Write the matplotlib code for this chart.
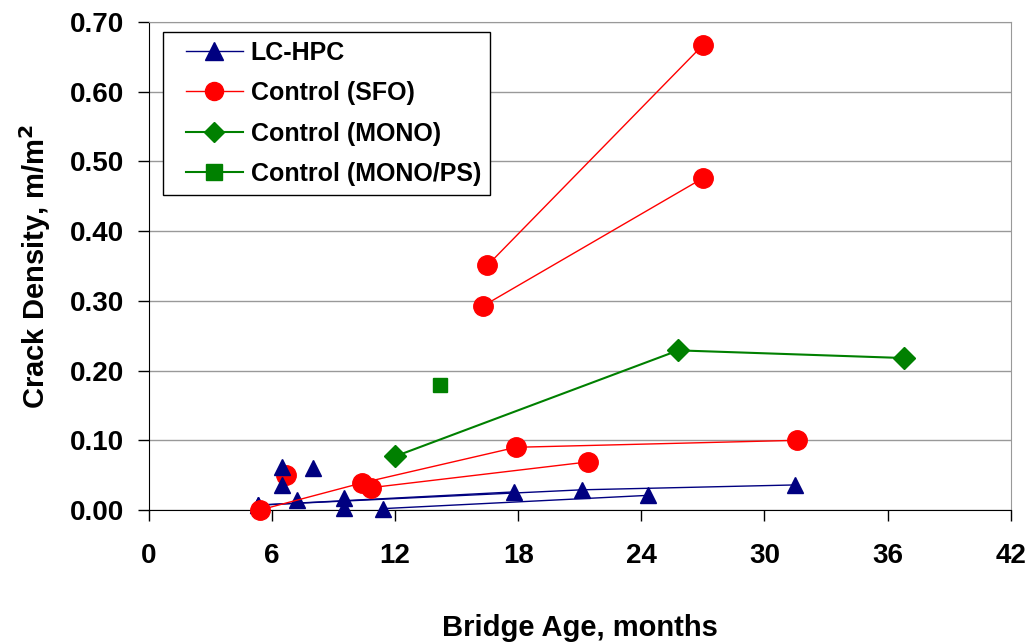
import numpy as np
import matplotlib
import matplotlib.pyplot as plt
from matplotlib.lines import Line2D
from matplotlib.legend_handler import HandlerLine2D

matplotlib.rcParams['font.family'] = "Liberation Sans"
matplotlib.rcParams['font.weight'] = "bold"

# LC-HPC bridges (connected series)
hpc_lines = [
    ([5.3, 17.8], [0.007, 0.026]),
    ([5.3, 21.1, 31.5], [0.007, 0.029, 0.036]),
    ([11.4, 24.3], [0.002, 0.021]),
]
# LC-HPC single surveys
hpc_x = [6.5, 6.5, 8.0, 7.2, 9.5, 9.5]
hpc_y = [0.062, 0.036, 0.060, 0.014, 0.017, 0.003]

# Control (SFO) bridges
sfo_lines = [
    ([16.5, 27.0], [0.351, 0.667]),
    ([16.3, 27.0], [0.293, 0.476]),
    ([5.4, 10.4, 17.9, 31.6], [0.0, 0.039, 0.090, 0.100]),
    ([10.8, 21.4], [0.032, 0.069]),
]
sfo_x = [6.7]
sfo_y = [0.050]

# Control (MONO)
mono_x = [12.0, 25.8, 36.8]
mono_y = [0.077, 0.229, 0.218]

# Control (MONO/PS)
monops_x = [14.2]
monops_y = [0.179]

navy = "#000080"
red = "#FF0000"
green = "#008000"

fig = plt.figure(figsize=(10.33, 6.43), dpi=100)
ax = fig.add_axes([0.1442, 0.2068, 0.8342, 0.759])

ax.yaxis.grid(True, color="#999999", linewidth=1)
ax.set_axisbelow(True)

for xs, ys in hpc_lines:
    ax.plot(xs, ys, color=navy, linewidth=1, marker="^", markersize=12, zorder=3, clip_on=False)
ax.plot(hpc_x, hpc_y, linestyle="none", color=navy, marker="^", markersize=12, zorder=3, clip_on=False)

for xs, ys in sfo_lines:
    ax.plot(xs, ys, color=red, linewidth=1, marker="o", markersize=14, zorder=4, clip_on=False)
ax.plot(sfo_x, sfo_y, linestyle="none", color=red, marker="o", markersize=14, zorder=2, clip_on=False)

ax.plot(mono_x, mono_y, color=green, linewidth=1.5, marker="D", markersize=11, zorder=3, clip_on=False)
ax.plot(monops_x, monops_y, linestyle="none", color=green, marker="s", markersize=10, zorder=3, clip_on=False)

# legend proxies
h1, = ax.plot([], [], color=navy, linewidth=1, marker="^", markersize=13)
h2, = ax.plot([], [], color=red, linewidth=1, marker="o", markersize=13)
h3, = ax.plot([], [], color=green, linewidth=1.5, marker="D", markersize=10)
h4, = ax.plot([], [], color=green, linewidth=1.5, marker="s", markersize=11)
leg = ax.legend([h1, h2, h3, h4],
                ["LC-HPC", "Control (SFO)", "Control (MONO)", "Control (MONO/PS)"],
                loc="upper left", bbox_to_anchor=(0.0163, 0.98), borderaxespad=0,
                fancybox=False, framealpha=1, edgecolor="black", fontsize=18,
                handlelength=2.85, handletextpad=0.3, labelspacing=0.66, borderpad=0.35,
                handler_map={Line2D: HandlerLine2D(xpad=0.55)})
leg.get_frame().set_linewidth(1)

ax.set_xlim(0, 42)
ax.set_ylim(0, 0.70)
ax.set_xticks(range(0, 43, 6))
ax.set_yticks(np.arange(0, 0.71, 0.1))
ax.set_yticklabels(["%.2f" % v for v in np.arange(0, 0.71, 0.1)])
ax.tick_params(axis="both", direction="out", length=8, width=1, labelsize=20)
ax.tick_params(axis="x", pad=16)
ax.tick_params(axis="y", pad=10)

for s in ["top", "right"]:
    ax.spines[s].set_color("#999999")
ax.spines["left"].set_color("black")
ax.spines["bottom"].set_color("black")

ax.set_xlabel("Bridge Age, months", fontsize=21, fontweight="bold", labelpad=32)
ax.set_ylabel("Crack Density, m/m$^\\mathbf{2}$", fontsize=21, fontweight="bold", labelpad=12)

plt.savefig("out.png", dpi=100)
